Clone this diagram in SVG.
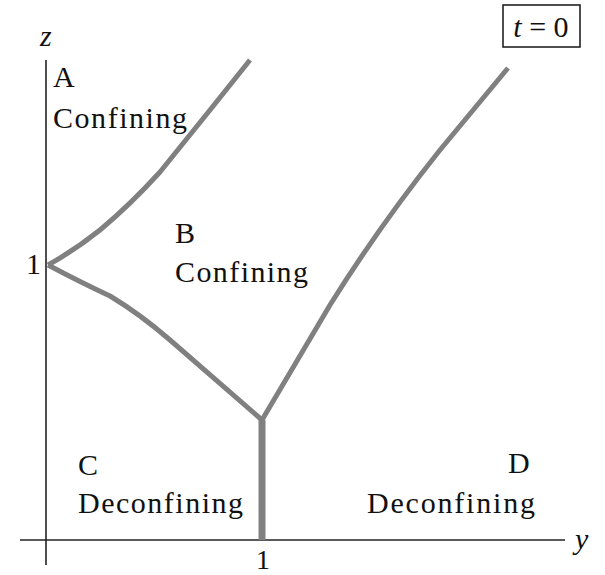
<svg xmlns="http://www.w3.org/2000/svg" width="605" height="575" viewBox="0 0 605 575">
<style>
.t{font-family:"Liberation Serif","Times New Roman",serif;font-size:30px;fill:#111}
.it{font-style:italic}
.ax{stroke:#222;stroke-width:1.6;fill:none}
.cv{stroke:#808080;stroke-width:5;fill:none;stroke-linecap:butt;stroke-linejoin:round}
</style>
<rect width="605" height="575" fill="#fff"/>
<g id="axes">
<line class="ax" x1="46" y1="60" x2="46" y2="565"/>
<line class="ax" x1="20" y1="540" x2="565" y2="540"/>
<text class="t it" x="40" y="46">z</text>
<text class="t it" x="575" y="549">y</text>
<text class="t" x="26" y="274">1</text>
<text class="t" x="256" y="569" style="font-size:28px">1</text>
</g>
<g id="connectors">
<path class="cv" d="M250,60 L210,110 L160,172 Q130,205 100,230 Q75,250 48,265"/>
<path class="cv" d="M48,265 Q80,282 110,296 Q140,314 170,340 L262,420"/>
<path class="cv" d="M508,68 L440,150 Q380,225 330,305 L262,420"/>
<line class="cv" x1="262" y1="420" x2="262" y2="540" style="stroke-width:7"/>
</g>
<g id="A">
<text class="t" x="53" y="87">A</text>
<text class="t" x="53" y="128" textLength="134" lengthAdjust="spacing">Confining</text>
</g>
<g id="B">
<text class="t" x="175" y="243">B</text>
<text class="t" x="175" y="282" textLength="133" lengthAdjust="spacing">Confining</text>
</g>
<g id="C">
<text class="t" x="78" y="475">C</text>
<text class="t" x="78" y="513" textLength="165" lengthAdjust="spacing">Deconfining</text>
</g>
<g id="D">
<text class="t" x="508" y="473">D</text>
<text class="t" x="367" y="513" textLength="168" lengthAdjust="spacing">Deconfining</text>
</g>
<g id="label">
<rect x="503" y="5" width="77" height="42" fill="none" stroke="#222" stroke-width="1.6"/>
<text class="t" x="541" y="37" text-anchor="middle"><tspan class="it">t</tspan> = 0</text>
</g>
</svg>
